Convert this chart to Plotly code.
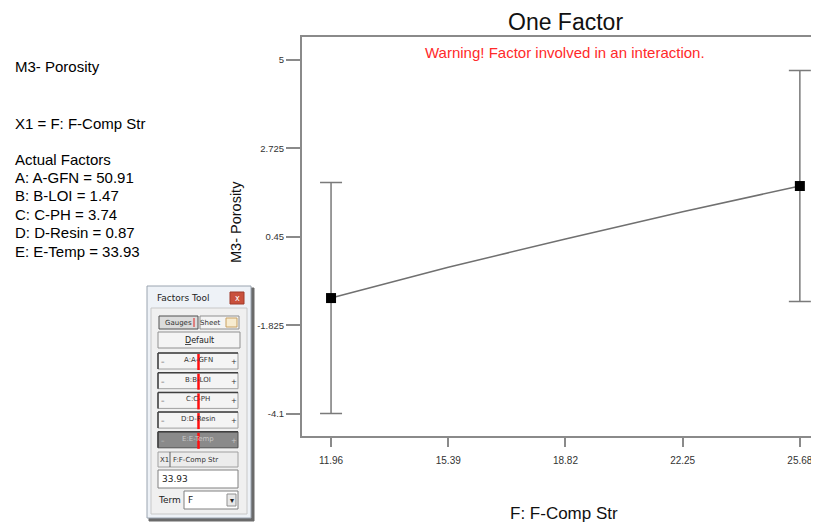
import plotly.graph_objects as go

# ---------------- data ----------------
x_levels = [11.96, 15.39, 18.82, 22.25, 25.68]          # factor F levels (tick values)
x_ticklabels = ["11.96", "15.39", "18.82", "22.25", "25.68"]
pred_curve = [-1.12, -0.33, 0.40, 1.10, 1.76]           # predicted M3- Porosity along F
design_x = [11.96, 25.68]                               # points with error bars
design_y = [-1.12, 1.76]
design_err = [2.97, 2.97]
y_ticks = [5, 2.725, 0.45, -1.825, -4.1]
y_ticklabels = ["5", "2.725", "0.45", "-1.825", "-4.1"]
info_lines = ["Actual Factors", "A: A-GFN = 50.91", "B: B-LOI = 1.47",
              "C: C-PH = 3.74", "D: D-Resin = 0.87", "E: E-Temp = 33.93"]
gauge_labels = ["A:A-GFN", "B:B-LOI", "C:C-PH", "D:D-Resin", "E:E-Temp"]

# ---------------- layout geometry ----------------
OFF = 8                      # page body margin
W, H = 819 - OFF, 524 - OFF  # figure size so that it fits the window
# plot area in window pixels: left 302, top 37, right 819, bottom 436
ML, MR, MT, MB = 302 - OFF, 0, 37 - OFF, 524 - 436

PW, PH = W - ML - MR, H - MT - MB

def px(x):
    return (x - OFF - ML) / PW

def py(y):
    return (H - MB - (y - OFF)) / PH

FONT = "Liberation Sans, Arial, sans-serif"
GRAY = "#8a8a8a"

fig = go.Figure()
fig.add_trace(go.Scatter(x=x_levels, y=pred_curve, mode="lines",
                         line=dict(color="#707070", width=1.5), hoverinfo="skip",
                         showlegend=False))
fig.add_trace(go.Scatter(x=design_x, y=design_y, mode="markers",
                         marker=dict(symbol="square", size=10, color="black"),
                         error_y=dict(type="data", array=design_err, visible=True,
                                      color="#7a7a7a", thickness=1.5, width=11),
                         showlegend=False))

annotations = []
shapes = []

def ann(x, y, text, size=14, color="black", xanchor="left", yanchor="middle",
        textangle=0, family=FONT):
    annotations.append(dict(x=px(x), y=py(y), xref="paper", yref="paper", text=text,
                            showarrow=False, xanchor=xanchor, yanchor=yanchor,
                            textangle=textangle,
                            font=dict(size=size, color=color, family=family)))

def rect(x0, y0, x1, y1, fill="#f0f0f0", line="#a0a0a0", lw=1):
    shapes.append(dict(type="rect", xref="paper", yref="paper",
                       x0=px(x0), x1=px(x1), y0=py(y1), y1=py(y0),
                       fillcolor=fill, line=dict(color=line, width=lw), layer="above"))

def seg(x0, y0, x1, y1, color="#404040", lw=1):
    shapes.append(dict(type="line", xref="paper", yref="paper",
                       x0=px(x0), x1=px(x1), y0=py(y0), y1=py(y1),
                       line=dict(color=color, width=lw), layer="above"))

# titles
ann(565, 22, "One Factor", size=23, color="#111", xanchor="center")
ann(565, 52, "Warning! Factor involved in an interaction.", size=15, color="#ff2a2a",
    xanchor="center")
ann(564, 513, "F: F-Comp Str", size=17, color="#111", xanchor="center")
ann(236, 222, "M3- Porosity", size=14.5, color="#111", xanchor="center", textangle=-90)

# left info text
ann(13, 66, "M3- Porosity", size=15)
ann(13, 123, "X1 = F: F-Comp Str", size=15)
for i, t in enumerate(info_lines):
    ann(13, 159 + i * 18.4, t, size=15)

# ---------------- Factors Tool widget ----------------
SF = "DejaVu Sans, sans-serif"
rect(149, 288, 254, 521, fill="#6a6a6a", line="#6a6a6a")      # shadow
rect(147, 286, 251, 518, fill="#eef2f7", line="#9aa4b0")      # window
rect(151, 308, 247, 514, fill="#f0f0f0", line="#c8c8c8")      # client area
ann(155, 298, "Factors Tool", size=9, color="#222", family=SF)
rect(230, 292, 244, 304, fill="#c9503c", line="#a03a2a")
ann(237, 298, "x", size=8, color="white", xanchor="center", family=SF)
# Gauges / Sheet buttons
rect(159, 316, 198, 329, fill="#dcdcdc", line="#505050")
ann(178, 322.5, "Gauges", size=7, color="#333", xanchor="center", family=SF)
seg(194, 318, 194, 327, color="#e02020", lw=1)
rect(200, 316, 239, 329, fill="#f4f4f4", line="#909090")
ann(210, 322.5, "Sheet", size=7, color="#333", xanchor="center", family=SF)
rect(226, 318, 237, 327, fill="#f8ecd0", line="#c8a060")
# Default button
rect(158, 332, 240, 348, fill="#f4f4f4", line="#909090")
ann(199, 340, "<u>D</u>efault", size=8, color="#222", xanchor="center", family=SF)
# gauges
for i, g in enumerate(gauge_labels):
    y0 = 353 + i * 19.7
    y1 = y0 + 16
    dark = (i == 4)
    rect(158, y0, 238, y1, fill="#8a8a8a" if dark else "#f4f4f4",
         line="#505050" if dark else "#a0a0a0")
    seg(158, y0, 158, y1, color="#404040", lw=1.5)
    seg(158, y0, 238, y0, color="#404040", lw=1.5)
    tc = "#c8c8c8" if dark else "#333"
    ann(198, y0 + 7, g, size=7, color=tc, xanchor="center", family=SF)
    ann(163, y0 + 9, "–", size=7, color=tc, xanchor="center", family=SF)
    ann(234, y0 + 9, "+", size=7, color=tc, xanchor="center", family=SF)
    seg(198.5, y0 + 1, 198.5, y1 + 1, color="#ff1010", lw=2.5)
# X1 row
rect(158, 452, 238, 467, fill="#ececec", line="#a0a0a0")
seg(170, 452, 170, 467, color="#606060", lw=1)
ann(164, 459.5, "X1", size=7, color="#333", xanchor="center", family=SF)
ann(171, 459.5, "F:F-Comp Str", size=7, color="#333", family=SF)
# value box
rect(158, 470, 238, 488, fill="white", line="#808080")
ann(160, 479, "33.93", size=9, color="#222", family=SF)
# Term dropdown
ann(156, 500, "Term", size=9, color="#222", family=SF)
rect(184, 491, 238, 509, fill="white", line="#808080")
ann(186, 500, "F", size=9, color="#222", family=SF)
rect(227, 494, 236, 506, fill="#e8e8e8", line="#909090")
ann(231.5, 500, "▾", size=8, color="#222", xanchor="center", family=SF)

fig.update_layout(
    width=W, height=H,
    margin=dict(l=ML, r=MR, t=MT, b=MB),
    paper_bgcolor="white", plot_bgcolor="white",
    showlegend=False,
    annotations=annotations, shapes=shapes,
    xaxis=dict(range=[11.11, 26.24], tickvals=x_levels, ticktext=x_ticklabels,
               showgrid=False, zeroline=False, showline=True, linecolor=GRAY,
               linewidth=2, mirror=True, ticks="outside", ticklen=9, tickwidth=2,
               tickcolor=GRAY, ticklabelstandoff=5,
               tickfont=dict(size=10, color="#333", family=FONT)),
    yaxis=dict(range=[-4.666, 5.591], tickvals=y_ticks, ticktext=y_ticklabels,
               showgrid=False, zeroline=False, showline=True, linecolor=GRAY,
               linewidth=2, mirror=False, ticks="outside", ticklen=14, tickwidth=2,
               tickcolor=GRAY,
               tickfont=dict(size=9.5, color="#333", family=FONT)),
)

fig.write_html("out.html")
